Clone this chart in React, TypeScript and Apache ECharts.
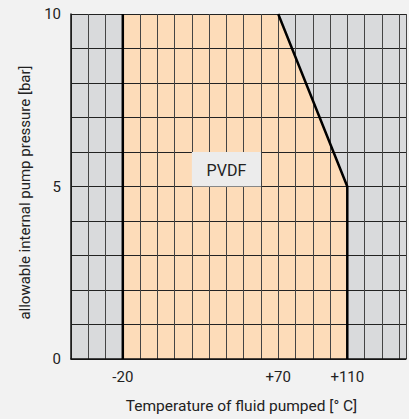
import React, { useEffect, useRef } from "react";
import * as echarts from "echarts";

// Boundary of the permitted operating region (temperature °C, pressure bar)
const boundaryTemps = [-20, -20, 70, 110, 110];
const boundaryPressures = [0, 10, 10, 5, 0];
// Ticks labelled on the x axis
const xTickLabels = [-20, 70, 110];
// Ticks labelled on the y axis
const yTickLabels = [0, 5, 10];
// Label box
const labelText = "PVDF";
const labelBoxTemps = [20, 60];
const labelBoxPressures = [6, 5];

const FONT = "'Roboto', sans-serif";

export default function App() {
  const ref = useRef<HTMLDivElement>(null);
  useEffect(() => {
    if (!ref.current) return;
    const chart = echarts.init(ref.current, undefined, { renderer: "svg" });
    const regionData = boundaryTemps.map((t, i) => [t, boundaryPressures[i]]);
    chart.setOption({
      animation: false,
      backgroundColor: "#f2f2f2",
      textStyle: { fontFamily: FONT },
      grid: {
        left: 71,
        top: 14,
        width: 338,
        height: 348,
        show: true,
        backgroundColor: "#d9dadc",
        borderWidth: 0,
      },
      xAxis: {
        type: "value",
        min: -50,
        max: 144,
        interval: 10,
        z: 3,
        name: "Temperature of fluid pumped [° C]",
        nameLocation: "middle",
        nameGap: 39,
        nameTextStyle: { fontSize: 15.5, color: "#222", fontFamily: FONT, padding: [0, 0, 0, 6] },
        axisLine: { show: true, onZero: false, lineStyle: { color: "#111", width: 1.5 } },
        axisTick: { show: false },
        splitLine: { show: true, lineStyle: { color: "#444", width: 1 } },
        axisLabel: {
          margin: 10,
          fontSize: 15,
          color: "#222",
          fontFamily: FONT,
          formatter: (v: number) =>
            xTickLabels.includes(v) ? (v > 0 ? "+" + v : String(v)) : "",
        },
      },
      yAxis: {
        type: "value",
        min: 0,
        max: 10,
        interval: 1,
        z: 3,
        name: "allowable internal pump pressure [bar]",
        nameLocation: "middle",
        nameGap: 39,
        nameTextStyle: { fontSize: 15, color: "#222", fontFamily: FONT, padding: [0, 12, 0, 0] },
        axisLine: { show: true, onZero: false, lineStyle: { color: "#111", width: 1.5 } },
        axisTick: { show: false },
        splitLine: { show: true, lineStyle: { color: "#222", width: 1 } },
        axisLabel: {
          margin: 10,
          fontSize: 15,
          color: "#222",
          fontFamily: FONT,
          formatter: (v: number) => (yTickLabels.includes(v) ? String(v) : ""),
        },
      },
      series: [
        {
          type: "line",
          z: 1,
          data: regionData,
          showSymbol: false,
          lineStyle: { width: 0, color: "#fddcb9" },
          areaStyle: { color: "#fddcb9", opacity: 1, origin: "start" },
          silent: true,
        },
        {
          type: "line",
          z: 5,
          data: regionData.slice(0, 2),
          showSymbol: false,
          lineStyle: { width: 2.5, color: "#000" },
          silent: true,
        },
        {
          type: "line",
          z: 5,
          data: regionData.slice(2),
          showSymbol: false,
          lineStyle: { width: 2.5, color: "#000" },
          silent: true,
        },
        {
          type: "custom",
          z: 6,
          silent: true,
          data: [[labelBoxTemps[0], labelBoxPressures[0], labelBoxTemps[1], labelBoxPressures[1]]],
          renderItem: (params: any, api: any) => {
            const p1 = api.coord([api.value(0), api.value(1)]);
            const p2 = api.coord([api.value(2), api.value(3)]);
            return {
              type: "group",
              children: [
                {
                  type: "rect",
                  shape: { x: p1[0], y: p1[1], width: p2[0] - p1[0], height: p2[1] - p1[1] },
                  style: { fill: "#ececec" },
                },
                {
                  type: "text",
                  x: (p1[0] + p2[0]) / 2,
                  y: (p1[1] + p2[1]) / 2 + 1,
                  style: {
                    text: labelText,
                    fill: "#222",
                    fontSize: 16,
                    fontFamily: FONT,
                    align: "center",
                    verticalAlign: "middle",
                  },
                },
              ],
            };
          },
        },
      ],
    });
    return () => chart.dispose();
  }, []);
  return (
    <div
      ref={ref}
      style={{ position: "fixed", left: 0, top: 0, width: 409, height: 419 }}
    />
  );
}
